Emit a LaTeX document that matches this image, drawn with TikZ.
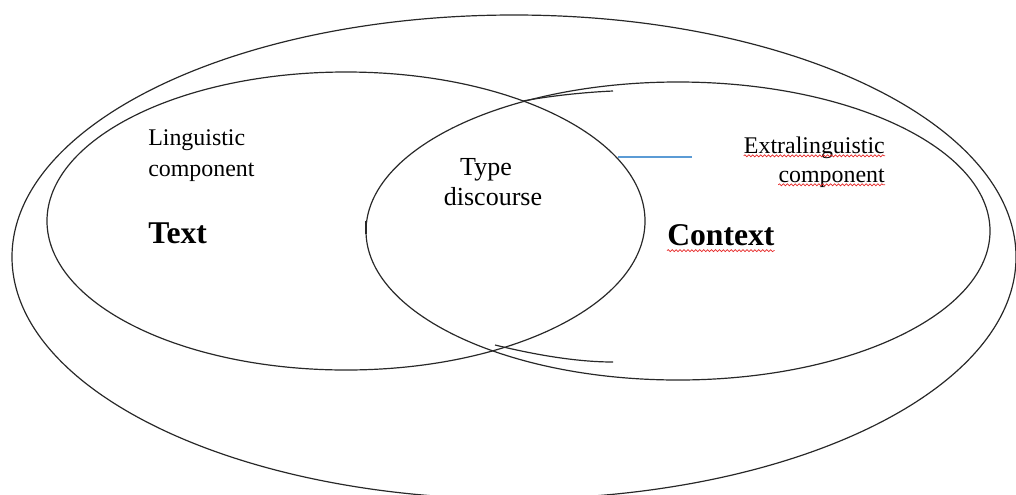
\documentclass[tikz,border=0pt]{standalone}
\usepackage{fontspec}
\setmainfont{Liberation Serif}
\usetikzlibrary{decorations.pathmorphing}
\definecolor{LineGray}{RGB}{40, 40, 40}
\definecolor{WordBlue}{RGB}{91, 155, 213}
\definecolor{SpellRed}{RGB}{230, 40, 40}

\begin{document}
\begin{tikzpicture}[
        x=0.025cm, y=-0.025cm,
        outline/.style={draw=LineGray, line width=0.85pt},
        lbl/.style={inner sep=0pt, font=\fontsize{17}{20}\selectfont, text=black},
        midlbl/.style={lbl, font=\fontsize{18.5}{22}\selectfont},
        title/.style={inner sep=0pt, font=\fontsize{22.5}{26}\selectfont\bfseries, text=black},
        squiggle/.style={SpellRed, line width=0.5pt, decorate, decoration={snake, amplitude=0.7pt, segment length=2.8pt}}
    ]
        \useasboundingbox (0,0) rectangle (1016,494);
        \clip (0,0) rectangle (1016,494);

        % outer field
        \draw[outline] (514,257) ellipse [x radius=502, y radius=242];
        % text / context
        \draw[outline] (346,221) ellipse [x radius=299, y radius=149];
        \draw[outline] (678,231) ellipse [x radius=312, y radius=149];

        % leftover strokes of the middle arc
        \coordinate (topcross) at (523,101);
        \coordinate (topend) at (613,91);
        \draw[outline] (topcross) .. controls (555,95) and (590,92) .. (topend);
        \coordinate (botcross) at (495,345);
        \coordinate (botend) at (613,362);
        \draw[outline] (botcross) .. controls (540,356) and (580,362) .. (botend);
        \coordinate (ticka) at (365.8,221);
        \coordinate (tickb) at (365.8,234);
        \draw[outline, line width=1.3pt] (ticka) -- (tickb);

        \coordinate (bluea) at (618,157);
        \coordinate (blueb) at (692,157);
        \draw[WordBlue, line width=1pt] (bluea) -- (blueb);

        \node[lbl, anchor=base west] (ling1) at (148,145) {Linguistic};
        \node[lbl, anchor=base west] (ling2) at (148,176) {component};
        \node[title, anchor=base west] (text) at (148,243) {Text};

        \node[midlbl, anchor=base] (type) at (486,175) {Type};
        \node[midlbl, anchor=base] (disc) at (493,205) {discourse};

        \node[lbl, anchor=base east] (extra1) at (885,153) {Extralinguistic};
        \node[lbl, anchor=base east] (extra2) at (885,182) {component};
        \node[title, anchor=base west] (context) at (667,245) {Context};

        % spell check marks
        \draw[squiggle] ([yshift=-2pt]extra1.base west) -- ([yshift=-2pt]extra1.base east);
        \draw[squiggle] ([yshift=-2pt]extra2.base west) -- ([yshift=-2pt]extra2.base east);
        \draw[squiggle] ([yshift=-4pt]context.base west) -- ([yshift=-4pt]context.base east);
\end{tikzpicture}
\end{document}
